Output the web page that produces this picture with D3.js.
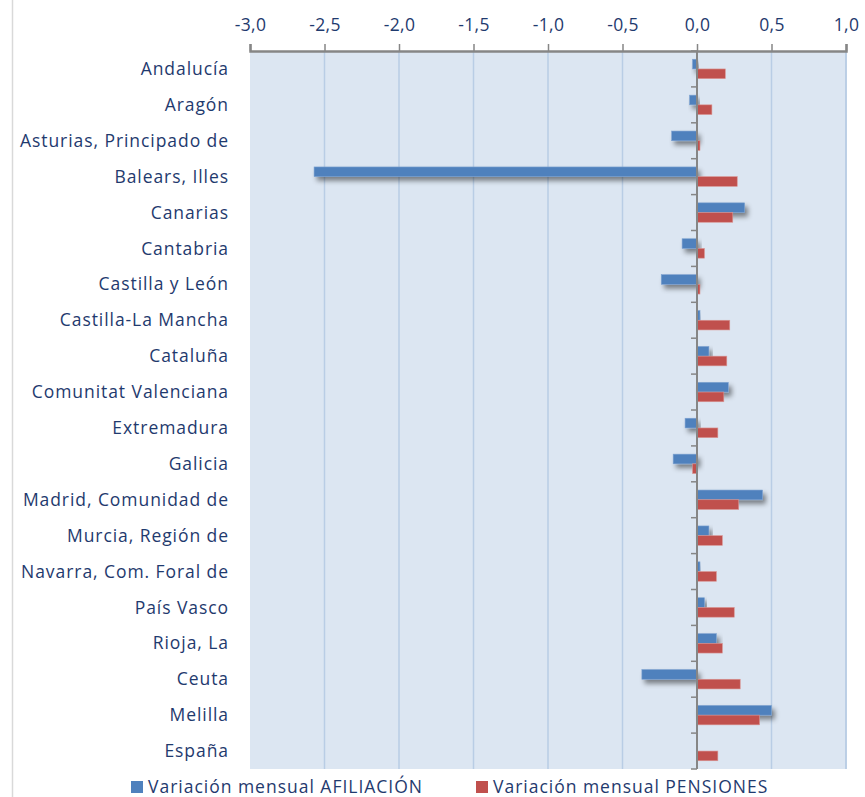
<!DOCTYPE html>
<html><head><meta charset="utf-8">
<script src="https://cdn.jsdelivr.net/npm/d3@7"></script>
<style>body{margin:0;background:#fff}svg{display:block}</style>
</head><body>
<script>
const categories = ["Andalucía","Aragón","Asturias, Principado de","Balears, Illes","Canarias","Cantabria","Castilla y León","Castilla-La Mancha","Cataluña","Comunitat Valenciana","Extremadura","Galicia","Madrid, Comunidad de","Murcia, Región de","Navarra, Com. Foral de","País Vasco","Rioja, La","Ceuta","Melilla","España"];
const afiliacion = [-0.03,-0.05,-0.17,-2.57,0.32,-0.10,-0.24,0.02,0.08,0.21,-0.08,-0.16,0.44,0.08,0.02,0.05,0.13,-0.37,0.50,-0.005];
const pensiones  = [0.19,0.10,0.02,0.27,0.24,0.05,0.02,0.22,0.20,0.18,0.14,-0.03,0.28,0.17,0.13,0.25,0.17,0.29,0.42,0.14];
const seriesNames = ["Variación mensual AFILIACIÓN","Variación mensual PENSIONES"];
const seriesColors = ["#4F81BD","#C0504D"];
const xTicks = [-3,-2.5,-2,-1.5,-1,-0.5,0,0.5,1];

const W=865,H=797;
const L=250,R=846,T=51,B=769;
const textColor="#1F3A6E";
const font="'Open Sans', sans-serif";
const fs=17.5;

const svg=d3.select("body").append("svg").attr("width",W).attr("height",H);
const defs=svg.append("defs");
const f=defs.append("filter").attr("id","sh").attr("x","-20%").attr("y","-50%").attr("width","150%").attr("height","250%");
f.append("feDropShadow").attr("dx",3).attr("dy",4).attr("stdDeviation",2.5).attr("flood-color","#000").attr("flood-opacity",0.45);

svg.append("line").attr("x1",12.5).attr("x2",12.5).attr("y1",0).attr("y2",H).attr("stroke","#D9D9D9").attr("stroke-width",1.5);

const x=d3.scaleLinear().domain([-3,1]).range([L,R]);
const y=d3.scaleBand().domain(categories).range([T,B]).padding(0);
const ys=d3.scaleBand().domain([0,1]).range([0,y.bandwidth()]).paddingInner(0).paddingOuter(0.85);

svg.append("rect").attr("x",L).attr("y",T).attr("width",R-L).attr("height",B-T).attr("fill","#DCE6F2");

svg.append("g").selectAll("line").data(xTicks.filter(d=>d!==0&&d!==-3)).join("line")
  .attr("x1",d=>x(d)).attr("x2",d=>x(d)).attr("y1",T).attr("y2",B)
  .attr("stroke","#B9CDE5").attr("stroke-width",1.5);
svg.append("line").attr("x1",R).attr("x2",R).attr("y1",T).attr("y2",B).attr("stroke","#B9CDE5").attr("stroke-width",1.5);

const data=[];
categories.forEach((c,i)=>{data.push({c,s:0,v:afiliacion[i]});data.push({c,s:1,v:pensiones[i]});});
svg.append("g").selectAll("rect").data(data).join("rect")
  .attr("x",d=>Math.min(x(0),x(d.v)))
  .attr("width",d=>Math.max(0.8,Math.abs(x(d.v)-x(0))))
  .attr("y",d=>y(d.c)+ys(d.s))
  .attr("height",ys.bandwidth())
  .attr("fill",d=>seriesColors[d.s])
  .attr("stroke",d=>d.s===0?"#7FA3D1":"#D99694")
  .attr("stroke-width",0.6)
  .attr("filter",d=>d.s===0?"url(#sh)":null);

const ax=d3.axisTop(x).tickValues(xTicks).tickSize(7).tickFormat(d=>d3.format(".1f")(d).replace(".",",").replace("−","-"));
const gA=svg.append("g").attr("transform",`translate(0,${T})`).call(ax);
gA.select(".domain").attr("stroke","#868686").attr("stroke-width",2.5);
gA.selectAll(".tick line").attr("stroke","#868686").attr("stroke-width",1.5);
gA.selectAll(".tick text").attr("fill",textColor).attr("font-family",font).attr("font-size",fs).attr("letter-spacing",0.3).attr("dy","-0.55em");

const gZ=svg.append("g").attr("transform",`translate(${x(0)},0)`);
gZ.append("line").attr("x1",0).attr("x2",0).attr("y1",T).attr("y2",B).attr("stroke","#868686").attr("stroke-width",2);
gZ.selectAll("line.tk").data(d3.range(categories.length+1)).join("line").attr("class","tk")
  .attr("x1",-6).attr("x2",0).attr("y1",i=>T+i*y.step()).attr("y2",i=>T+i*y.step())
  .attr("stroke","#868686").attr("stroke-width",1.5);

const labels=svg.append("g").selectAll("text").data(categories).join("text")
  .attr("x",229).attr("y",d=>y(d)+y.bandwidth()/2).attr("dy","0.35em")
  .attr("text-anchor","end").attr("fill",textColor).attr("font-family",font).attr("font-size",fs)
  .text(d=>d);
const n0=labels.filter((d,i)=>i===2).node();
const w0=n0.getComputedTextLength();
const ls=(209-w0)/(categories[2].length);
labels.attr("letter-spacing",ls);

const lx=[131,476];
const lt=[];
seriesNames.forEach((n,i)=>{
  svg.append("rect").attr("x",lx[i]).attr("y",781).attr("width",12).attr("height",12).attr("fill",seriesColors[i]);
  lt.push(svg.append("text").attr("x",lx[i]+17).attr("y",787).attr("dy","0.36em").attr("fill",textColor)
    .attr("font-family",font).attr("font-size",fs).text(n));
});
const lw=lt[0].node().getComputedTextLength();
const lls=(275-lw)/seriesNames[0].length;
lt.forEach(t=>t.attr("letter-spacing",lls));
</script>
</body></html>
